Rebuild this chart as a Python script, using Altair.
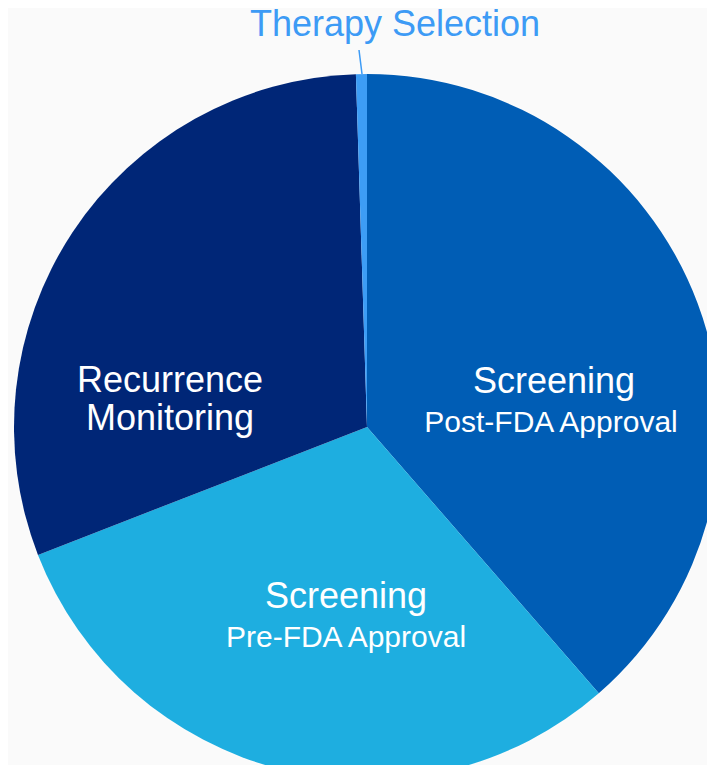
import altair as alt
import pandas as pd

# ---- data ----
segments = ["Screening Post-FDA Approval", "Screening Pre-FDA Approval",
            "Recurrence Monitoring", "Therapy Selection"]
shares = [38.6, 30.5, 30.4, 0.5]
slice_order = [0, 1, 2, 3]

# ---- styles ----
colors = ["#005DB5", "#1EAEE0", "#002677", "#3D9DF5"]
CX, CY, R = 359, 419, 353

df = pd.DataFrame({"segment": segments, "share": shares, "order": slice_order})

# soft glow / shadow around the pie
shadow_df = pd.DataFrame({"r": [R + i for i in range(1, 13)]})
shadow = alt.Chart(shadow_df).mark_arc(
    theta=0, theta2=6.2832, color="#000000", opacity=0.018
).encode(
    radius=alt.Radius("r:Q", scale=None),
    x=alt.value(CX), y=alt.value(CY),
)

pie = alt.Chart(df).mark_arc(radius=R).encode(
    theta=alt.Theta("share:Q", stack=True),
    color=alt.Color("segment:N", scale=alt.Scale(domain=segments, range=colors), legend=None),
    order=alt.Order("order:Q"),
    x=alt.value(CX), y=alt.value(CY),
)

# ---- labels (annotations) ----
main_labels = ["Screening", "Recurrence", "Monitoring", "Screening"]
main_x = [546, 162, 162, 338]
main_y = [385, 384, 422, 600]
sub_labels = ["Post-FDA Approval", "Pre-FDA Approval"]
sub_x = [543, 338]
sub_y = [424, 639]

main_df = pd.DataFrame({"t": main_labels, "x": main_x, "y": main_y})
sub_df = pd.DataFrame({"t": sub_labels, "x": sub_x, "y": sub_y})

main_text = alt.Chart(main_df).mark_text(
    font="Liberation Sans", fontSize=36, color="white", align="center", baseline="alphabetic"
).encode(x=alt.X("x:Q", scale=None), y=alt.Y("y:Q", scale=None), text="t:N")

sub_text = alt.Chart(sub_df).mark_text(
    font="Liberation Sans", fontSize=30, color="white", align="center", baseline="alphabetic"
).encode(x=alt.X("x:Q", scale=None), y=alt.Y("y:Q", scale=None), text="t:N")

therapy_df = pd.DataFrame({"t": ["Therapy Selection"]})
therapy_text = alt.Chart(therapy_df).mark_text(
    font="Liberation Sans", fontSize=36, color="#3D9BF5", align="center", baseline="alphabetic"
).encode(x=alt.value(387), y=alt.value(28), text="t:N")

leader = alt.Chart(therapy_df).mark_rule(color="#3D9BF5", strokeWidth=1.5).encode(
    x=alt.value(351), y=alt.value(42), x2=alt.value(354), y2=alt.value(66)
)

chart = alt.layer(shadow, pie, main_text, sub_text, leader, therapy_text).properties(
    width=699, height=757,
    autosize=alt.AutoSizeParams(type="none"),
    padding=0,
    background="white",
).configure_view(stroke=None)

chart.save("out.html", embed_options={"renderer": "svg", "actions": False})
